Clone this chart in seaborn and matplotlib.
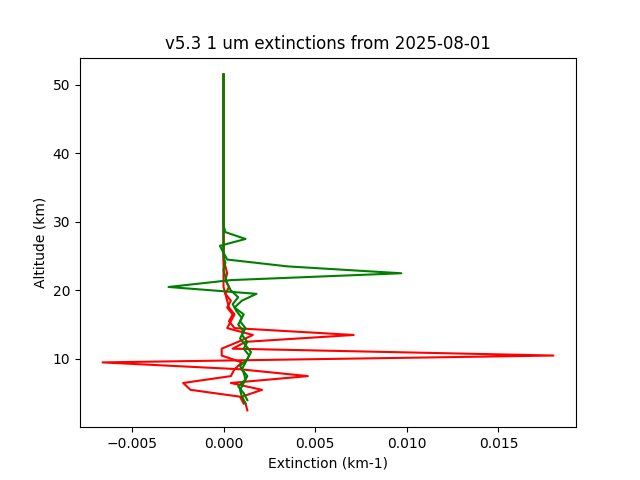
import matplotlib
matplotlib.use("Agg")
import matplotlib.pyplot as plt
import seaborn as sns
import pandas as pd

top_alt = [30.5, 35, 40, 45, 50, 51.5]
top_val = [0, 0, 0, 0, 0, 0]

green_a_alt = [3.5,4.5,5.5,6.5,7.5,8.5,9.5,10.5,11.5,12.5,13.5,14.5,15.5,16.5,17.5,18.5,19.5,20.5,21.5,22.5,23.5,24.5,25.5,26.5,27.5,28.5,29.5]
green_a_val = [0.0012,0.0010,0.0009,0.0011,0.0013,0.0010,0.0012,0.0014,0.0011,0.0013,0.0010,0.0012,0.0009,0.0011,0.0006,0.0010,0.0018,-0.0030,0.0004,0.0097,0.0035,0.0002,0.0,-0.0002,0.0012,0.0001,0.0]
green_b_alt = [4,5,6,7,8,9,10,11,12,13,14,15,16,17,18,19,20,21,22,23,24,25,26,27,28,29,30]
green_b_val = [0.0013,0.0011,0.0008,0.0012,0.0011,0.0009,0.0013,0.0015,0.0012,0.0009,0.0011,0.0008,0.0010,0.0007,0.0005,0.0008,0.0004,0.0002,0.0001,0.0,0.0001,0.0,0.0,0.0,0.0,0.0,0.0]
red_a_alt = [2.5,3.5,4.5,5.5,6.5,7.5,8.5,9.5,10.5,11.5,12.5,13.5,14.5,15.5,16.5,17.5,18.5,19.5,20.5,21.5,22.5,23.5,24.5,25.5,27,29]
red_a_val = [0.0013,0.0012,0.0010,0.0021,0.0004,0.0046,0.0009,-0.0066,0.0180,0.0005,0.0012,0.0071,0.0006,0.0003,0.0005,0.0002,0.0004,0.0001,0.0003,0.0001,0.0002,0.0001,0.0,0.0,0.0,0.0]
red_b_alt = [3.5,4.5,5.5,6.5,7.5,8.5,9.5,10.5,11.5,12.5,13.5,14.5,15.5,16.5,17.5,18.5,19.5,20.5,22,25,28]
red_b_val = [0.0011,0.0009,-0.0018,-0.0022,0.0004,0.0006,0.0010,-0.0001,-0.0001,0.0008,0.0016,0.0002,0.0004,0.0006,0.0003,0.0002,0.0001,0.0,0.0,0.0,0.0]

profiles = [
    (red_a_alt + top_alt, red_a_val + top_val, "red"),
    (red_b_alt + top_alt, red_b_val + top_val, "red"),
    (green_a_alt + top_alt, green_a_val + top_val, "green"),
    (green_b_alt + top_alt, green_b_val + top_val, "green"),
]

fig, ax = plt.subplots(figsize=(6.4, 4.8), dpi=100)
for alt, val, col in profiles:
    df = pd.DataFrame({"ext": val, "alt": alt})
    sns.lineplot(data=df, x="ext", y="alt", sort=False, estimator=None,
                 orient="y", color=col, ax=ax)
ax.set_xlabel("Extinction (km-1)")
ax.set_ylabel("Altitude (km)")
ax.set_title("v5.3 1 um extinctions from 2025-08-01")
fig.savefig("out.png")
